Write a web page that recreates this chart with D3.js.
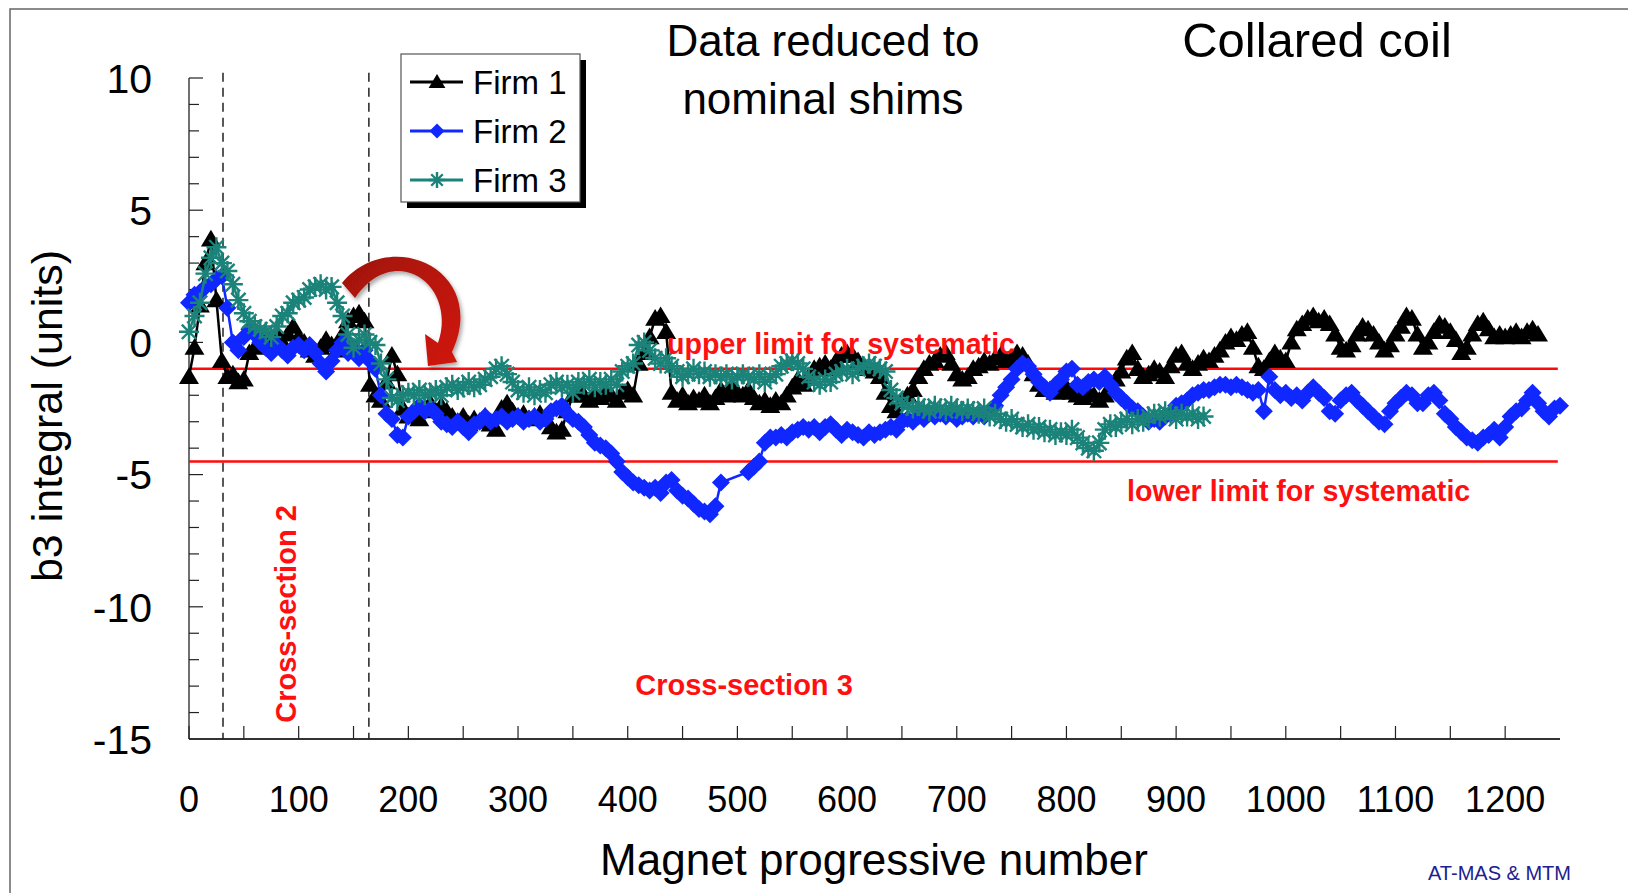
<!DOCTYPE html>
<html><head><meta charset="utf-8">
<script src="https://cdn.jsdelivr.net/npm/d3@7"></script>
<style>
html,body{margin:0;padding:0;background:#fff;}
svg{display:block;}
text{font-family:Arial,"Liberation Sans",Helvetica,sans-serif;}
</style>
</head><body>
<svg id="c" width="1628" height="893"></svg>
<script>
// ---- data (magnet progressive number step of 5) ----
const STEP = 5;
const firm1 = [
 -1.3,-0.2,1.4,3.0,3.9,1.6,-0.7,-1.3,-1.2,-1.5,
 -1.4,-0.4,-0.2,0.0,0.3,0.1,0.3,0.0,0.3,0.6,
 0.2,0.0,-0.3,-0.5,-0.2,0.1,-0.1,-0.3,0.3,0.8,
 1.0,1.1,0.8,-1.6,-2.0,-2.2,-1.5,-0.5,-1.2,-2.5,
 -2.8,-2.7,-2.9,-2.5,-2.3,-2.6,-2.4,-2.6,-2.8,-3.0,
 -2.8,-3.1,-2.9,-3.0,-2.8,-3.1,-3.3,-2.5,-2.3,-2.6,
 -2.8,-2.7,-2.9,-2.8,-2.7,-2.9,-3.2,-3.4,-3.3,-2.6,
 -2.0,-1.8,-2.0,-2.2,-1.9,-2.1,-1.8,-2.0,-2.2,-1.9,
 -1.8,-2.0,-0.8,-0.4,0.2,0.9,1.0,0.4,-1.9,-2.2,
 -2.0,-2.3,-2.1,-2.2,-2.0,-2.3,-2.1,-1.8,-2.0,-1.7,
 -1.9,-2.0,-1.8,-2.1,-2.3,-2.2,-2.4,-2.2,-2.3,-2.0,
 -1.7,-1.4,-1.6,-1.3,-1.0,-0.9,-0.8,-1.0,-0.7,-0.5,
 -0.4,-0.5,-0.7,-0.9,-1.0,-1.1,-1.3,-1.9,-2.4,-2.6,
 -2.2,-2.0,-1.8,-1.3,-1.0,-0.8,-0.7,-0.5,-0.4,-0.8,
 -1.2,-1.4,-1.3,-1.0,-0.9,-0.7,-0.8,-0.6,-0.5,-0.7,
 -0.6,-0.4,-0.5,-0.8,-1.2,-1.6,-1.8,-1.8,-1.9,-1.8,
 -1.7,-1.9,-2.0,-2.1,-1.9,-2.0,-2.2,-2.0,-1.8,-1.4,
 -1.1,-0.6,-0.4,-1.0,-1.3,-1.2,-1.0,-1.1,-1.3,-0.9,
 -0.5,-0.4,-0.8,-1.0,-0.8,-0.6,-0.7,-0.5,-0.3,0.0,
 0.2,0.1,0.3,0.4,-0.2,-0.9,-1.0,-0.7,-0.4,-0.6,
 -0.7,0.0,0.5,0.7,0.9,1.0,0.8,0.9,0.7,0.3,
 -0.2,-0.3,-0.1,0.3,0.6,0.5,0.3,0.0,-0.3,-0.1,
 0.3,0.6,1.0,0.9,0.3,-0.2,0.0,0.4,0.7,0.6,
 0.4,0.1,-0.4,-0.2,0.3,0.7,0.8,0.5,0.2,0.3,
 0.2,0.3,0.4,0.2,0.4,0.5,0.3
];
const firm2 = [
 1.5,1.8,1.9,2.1,2.2,2.4,2.5,1.3,0.0,-0.3,
 0.2,0.5,0.3,0.0,-0.2,-0.4,-0.1,-0.3,-0.5,-0.2,
 -0.1,-0.3,-0.1,-0.4,-0.8,-1.1,-0.7,-0.3,0.0,-0.4,
 -0.2,-0.6,-0.3,-0.7,-1.0,-2.0,-2.7,-2.9,-3.5,-3.6,
 -2.8,-2.6,-2.4,-2.6,-2.5,-2.7,-3.0,-3.1,-3.2,-3.0,
 -3.2,-3.4,-3.1,-3.0,-2.8,-3.0,-2.9,-2.8,-3.0,-2.9,
 -2.8,-3.0,-2.9,-2.8,-3.0,-2.9,-2.6,-2.5,-2.4,-2.7,
 -2.9,-3.0,-3.2,-3.5,-3.8,-3.9,-4.0,-4.2,-4.5,-4.9,
 -5.1,-5.3,-5.4,-5.5,-5.6,-5.5,-5.7,-5.3,-5.2,-5.6,
 -5.8,-5.9,-6.1,-6.3,-6.4,-6.5,-6.2,-5.3,null,null,
 null,null,-4.9,-4.7,-4.5,-3.8,-3.6,-3.6,-3.5,-3.6,
 -3.4,-3.3,-3.2,-3.3,-3.2,-3.4,-3.2,-3.1,-3.3,-3.5,
 -3.3,-3.4,-3.5,-3.6,-3.4,-3.5,-3.4,-3.3,-3.2,-3.3,
 -3.0,-2.9,-3.0,-2.8,-2.9,-2.7,-2.8,-2.7,-2.8,-2.7,
 -2.9,-2.8,-2.7,-2.8,-2.7,-2.8,-2.6,-2.4,-2.0,-1.7,
 -1.4,-1.0,-0.8,-0.9,-1.2,-1.5,-1.7,-1.9,-1.6,-1.4,
 -1.1,-1.0,-1.6,-1.7,-1.5,-1.4,-1.5,-1.3,-1.6,-1.9,
 -2.1,-2.3,-2.5,-2.6,-2.8,-3.0,-2.9,-3.0,-2.8,-2.7,
 -2.4,-2.3,-2.2,-2.0,-1.9,-1.8,-1.8,-1.7,-1.6,-1.6,
 -1.7,-1.6,-1.7,-1.8,-1.9,-1.8,-2.6,-1.3,-1.8,-2.0,
 -1.9,-2.1,-2.0,-2.2,-1.9,-1.7,-1.9,-2.1,-2.6,-2.7,
 -2.2,-2.0,-1.9,-2.2,-2.4,-2.6,-2.8,-3.0,-3.1,-2.6,
 -2.3,-2.1,-1.9,-2.0,-2.3,-2.3,-2.0,-1.9,-2.2,-2.7,
 -2.9,-3.2,-3.4,-3.6,-3.7,-3.8,-3.6,-3.5,-3.3,-3.6,
 -3.2,-2.8,-2.6,-2.5,-2.2,-1.9,-2.3,-2.6,-2.8,-2.5,
 -2.4
];
const firm3 = [
 0.4,1.0,1.5,2.6,3.2,3.6,3.0,2.7,2.2,1.6,
 1.1,0.8,0.6,0.5,0.4,0.2,0.6,1.0,1.1,1.5,
 1.6,1.7,2.0,2.1,2.2,2.0,2.1,1.5,1.0,0.3,
 -0.2,0.1,0.3,0.0,-0.1,-0.8,-1.4,-2.1,-2.2,-2.0,
 -1.9,-2.0,-1.8,-2.0,-1.9,-1.8,-2.0,-1.7,-1.6,-1.8,
 -1.7,-1.5,-1.7,-1.6,-1.4,-1.3,-1.0,-0.9,-1.2,-1.5,
 -1.8,-1.9,-1.7,-2.0,-1.8,-1.9,-1.6,-1.5,-1.7,-1.6,
 -1.9,-1.5,-1.6,-1.4,-1.7,-1.5,-1.6,-1.4,-1.6,-1.1,
 -0.9,-0.8,-0.1,0.0,-0.3,-0.6,-0.8,-0.6,-0.9,-1.1,
 -1.3,-1.2,-1.0,-1.2,-1.1,-1.3,-1.2,-1.3,-1.2,-1.4,
 -1.3,-1.2,-1.3,-1.4,-1.2,-1.5,-1.3,-1.2,-0.9,-0.8,
 -0.7,-0.8,-1.0,-1.3,-1.5,-1.6,-1.4,-1.5,-1.2,-1.1,
 -1.0,-1.2,-1.0,-0.9,-0.8,-0.9,-1.0,-1.1,-1.8,-2.1,
 -2.3,-2.4,-2.5,-2.4,-2.5,-2.6,-2.4,-2.5,-2.6,-2.4,
 -2.5,-2.6,-2.5,-2.6,-2.7,-2.5,-2.8,-2.7,-2.9,-3.0,
 -2.9,-3.1,-3.2,-3.1,-3.3,-3.2,-3.4,-3.3,-3.5,-3.4,
 -3.5,-3.3,-3.6,-3.8,-4.0,-4.1,-3.8,-3.3,-3.1,-3.2,
 -3.0,-2.9,-3.1,-2.9,-3.0,-2.8,-2.7,-2.8,-2.6,-2.7,
 -2.9,-2.7,-2.8,-2.7,-2.9,-2.8
];
const seriesNames = ["Firm 1","Firm 2","Firm 3"];
const seriesColors = ["#000000","#1028ff","#1b8379"];
const xTickValues = d3.range(0, 1201, 50);
const xTickLabels = [0,100,200,300,400,500,600,700,800,900,1000,1100,1200];
const yTickValues = d3.range(-15, 11, 1);
const yTickLabels = [10,5,0,-5,-10,-15];
const limitUpper = -1, limitLower = -4.5;
const sectionBreaks = [31, 164];
// curved red arrow annotation (data units)
const arrowOuter = [[139.5,2.25],[183.3,4.44],[274.5,2.74],[239.8,-0.36]];
const arrowHead = [[244.4,-0.74],[217.9,-0.89],[215.2,0.32],[227.0,-0.02]];
const arrowInner = [[245.3,2.17],[187.8,3.87],[151.4,1.68]];

// ---- drawing ----
const svg = d3.select("#c");
svg.append("rect").attr("width",1628).attr("height",893).attr("fill","#fff");
// outer frame
svg.append("path").attr("d","M10,893 L10,9 L1628,9").attr("fill","none").attr("stroke","#666").attr("stroke-width",1.5);

const x = d3.scaleLinear().domain([0,1250]).range([189,1560]);
const y = d3.scaleLinear().domain([-15,10]).range([739,78]);

// y axis
const ya = svg.append("g");
ya.append("line").attr("x1",x(0)).attr("x2",x(0)).attr("y1",y(10)).attr("y2",y(-15)).attr("stroke","#222").attr("stroke-width",1.3);
ya.selectAll("line.t").data(yTickValues).join("line").attr("class","t")
  .attr("x1",x(0)).attr("x2",d=> x(0)+(d%5===0?14:10))
  .attr("y1",d=>y(d)).attr("y2",d=>y(d)).attr("stroke","#222").attr("stroke-width",1.2);
ya.selectAll("text").data(yTickLabels).join("text")
  .attr("x",152).attr("y",d=>y(d)).attr("dy","0.36em").attr("text-anchor","end")
  .attr("font-size",41).text(d=>d);

// x axis
const xa = svg.append("g");
xa.append("line").attr("x1",x(0)).attr("x2",x(1250)).attr("y1",y(-15)).attr("y2",y(-15)).attr("stroke","#333").attr("stroke-width",2);
xa.selectAll("line.t").data(xTickValues).join("line").attr("class","t")
  .attr("x1",d=>x(d)).attr("x2",d=>x(d)).attr("y1",y(-15)).attr("y2",y(-15)-13).attr("stroke","#222").attr("stroke-width",1.2);
xa.selectAll("text").data(xTickLabels).join("text")
  .attr("x",d=>x(d)).attr("y",812).attr("text-anchor","middle").attr("font-size",36).text(d=>d);

// limit lines
svg.selectAll("line.lim").data([limitUpper,limitLower]).join("line").attr("class","lim")
  .attr("x1",x(0)).attr("x2",x(1248)).attr("y1",d=>y(d)).attr("y2",d=>y(d))
  .attr("stroke","#ff0a0a").attr("stroke-width",2.5);

// section dashed lines
svg.selectAll("line.sec").data(sectionBreaks).join("line").attr("class","sec")
  .attr("x1",d=>x(d)).attr("x2",d=>x(d)).attr("y1",y(10.2)).attr("y2",y(-15))
  .attr("stroke","#222").attr("stroke-width",1.5).attr("stroke-dasharray","9,6");

// markers
function triPath(s){return `M0,${-s} L${s*1.05},${s*0.75} L${-s*1.05},${s*0.75} Z`;}
function diaPath(s){return `M0,${-s} L${s},0 L0,${s} L${-s},0 Z`;}
function drawMarker(g, kind, color, s){
  if(kind===0){ g.append("path").attr("d",triPath(s)).attr("fill",color); }
  else if(kind===1){ g.append("path").attr("d",diaPath(s)).attr("fill",color); }
  else {
    const d = s*0.72;
    g.append("path").attr("d",`M0,${-s}L0,${s}M${-s},0L${s},0M${-d},${-d}L${d},${d}M${-d},${d}L${d},${-d}`)
      .attr("stroke",color).attr("stroke-width",2.4).attr("fill","none");
  }
}

const allSeries = [firm1, firm2, firm3];
const markSize = [9.5, 9, 10];
allSeries.forEach((vals,k)=>{
  const pts = vals.map((v,i)=>({m:i*STEP, v})).filter(p=>p.v!==null);
  const line = d3.line().x(p=>x(p.m)).y(p=>y(p.v));
  svg.append("path").datum(pts).attr("d",line).attr("fill","none")
    .attr("stroke",seriesColors[k]).attr("stroke-width",2.5);
  const g = svg.append("g");
  pts.forEach(p=>{
    const mg = g.append("g").attr("transform",`translate(${x(p.m)},${y(p.v)})`);
    drawMarker(mg,k,seriesColors[k],markSize[k]);
  });
});

// red arrow
(function(){
  const P = a=>[x(a[0]),y(a[1])];
  const o = arrowOuter.map(P), h = arrowHead.map(P), n = arrowInner.map(P);
  const d = `M${o[0]} C${o[1]} ${o[2]} ${o[3]} L${h[0]} L${h[1]} L${h[2]} L${h[3]} C${n[0]} ${n[1]} ${n[2]} Z`;
  const defs = svg.append("defs");
  const gr = defs.append("linearGradient").attr("id","ag").attr("x1","0").attr("y1","0").attr("x2","1").attr("y2","1");
  gr.append("stop").attr("offset","0").attr("stop-color","#a01008");
  gr.append("stop").attr("offset","1").attr("stop-color","#d01a10");
  const f = defs.append("filter").attr("id","sh").attr("x","-20%").attr("y","-20%").attr("width","150%").attr("height","150%");
  f.append("feDropShadow").attr("dx",2).attr("dy",3).attr("stdDeviation",2).attr("flood-color","#000").attr("flood-opacity",0.35);
  svg.append("path").attr("d",d).attr("fill","url(#ag)").attr("filter","url(#sh)");
})();

// legend
const lg = svg.append("g");
lg.append("rect").attr("x",407).attr("y",60).attr("width",179).attr("height",148).attr("fill","#000");
lg.append("rect").attr("x",401).attr("y",54).attr("width",179).attr("height",148).attr("fill","#fff").attr("stroke","#555").attr("stroke-width",1.2);
const rowsY = [82,131,180];
seriesNames.forEach((nm,k)=>{
  lg.append("line").attr("x1",410).attr("x2",463).attr("y1",rowsY[k]).attr("y2",rowsY[k])
    .attr("stroke",seriesColors[k]).attr("stroke-width",3);
  const mg = lg.append("g").attr("transform",`translate(437,${rowsY[k]})`);
  drawMarker(mg,k,seriesColors[k],k===1?7.5:8);
  lg.append("text").attr("x",473).attr("y",rowsY[k]).attr("dy","0.36em").attr("font-size",33).text(nm);
});

// titles and labels
svg.append("text").attr("x",823).attr("y",56).attr("text-anchor","middle").attr("font-size",44).text("Data reduced to");
svg.append("text").attr("x",823).attr("y",114).attr("text-anchor","middle").attr("font-size",44).text("nominal shims");
svg.append("text").attr("x",1317).attr("y",57).attr("text-anchor","middle").attr("font-size",49).text("Collared coil");
svg.append("text").attr("x",874).attr("y",875).attr("text-anchor","middle").attr("font-size",44).text("Magnet progressive number");
svg.append("text").attr("transform","translate(62,416) rotate(-90)").attr("text-anchor","middle").attr("font-size",43).text("b3 integral (units)");
svg.append("text").attr("transform","translate(296,614) rotate(-90)").attr("text-anchor","middle").attr("font-size",29).attr("font-weight","bold").attr("fill","#ff1010").text("Cross-section 2");
svg.append("text").attr("x",744).attr("y",695).attr("text-anchor","middle").attr("font-size",29).attr("font-weight","bold").attr("fill","#ff1010").text("Cross-section 3");
svg.append("text").attr("x",667).attr("y",354).attr("font-size",28.6).attr("font-weight","bold").attr("fill","#ff1010").text("upper limit for systematic");
svg.append("text").attr("x",1127).attr("y",501).attr("font-size",28.6).attr("font-weight","bold").attr("fill","#ff1010").text("lower limit for systematic");
svg.append("text").attr("x",1428).attr("y",880).attr("font-size",20).attr("fill","#1c2090").text("AT-MAS & MTM");
</script>
</body></html>
